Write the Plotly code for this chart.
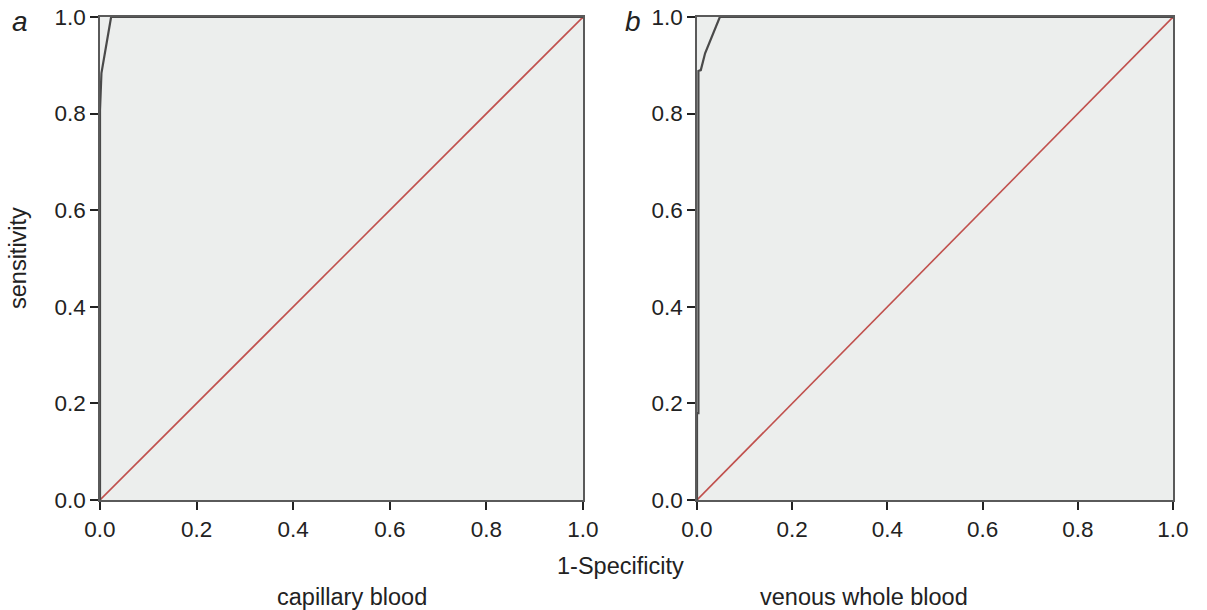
import plotly.graph_objects as go

# ROC data
cap_fpr = [0.0, 0.0, 0.003, 0.023, 1.0]
cap_tpr = [0.0, 0.807, 0.884, 1.0, 1.0]
ven_fpr = [0.0, 0.0, 0.003, 0.003, 0.008, 0.017, 0.048, 1.0]
ven_tpr = [0.0, 0.18, 0.18, 0.888, 0.89, 0.925, 1.0, 1.0]
ref_line = [0.0, 1.0]
tick_vals = [0.0, 0.2, 0.4, 0.6, 0.8, 1.0]
panel_titles = ["capillary blood", "venous whole blood"]
panel_letters = ["a", "b"]

W, H = 1207, 610
font = "Liberation Sans, Arial, sans-serif"
fig = go.Figure()

for i, (fx, ty) in enumerate([(cap_fpr, cap_tpr), (ven_fpr, ven_tpr)]):
    xa = "x" if i == 0 else "x2"
    ya = "y" if i == 0 else "y2"
    fig.add_trace(go.Scatter(x=ref_line, y=ref_line, mode="lines", xaxis=xa, yaxis=ya,
                             line=dict(color="#c0504d", width=1.6), showlegend=False, hoverinfo="skip"))
    fig.add_trace(go.Scatter(x=fx, y=ty, mode="lines", xaxis=xa, yaxis=ya,
                             line=dict(color="#4a4a4a", width=2.2), showlegend=False))

ax_common = dict(range=[0, 1], tickvals=tick_vals, tickformat=".1f", showgrid=False, zeroline=False,
                 showline=True, mirror=True, linecolor="#5a5a5a", linewidth=1.5,
                 ticks="outside", ticklen=8, tickwidth=1.5, tickcolor="#222222",
                 tickfont=dict(family=font, size=22.5, color="#222222"), fixedrange=True,
                 automargin=False)

y0, y1 = 1 - 500 / H, 1 - 17 / H
fig.update_layout(
    width=W, height=H,
    margin=dict(l=0, r=0, t=0, b=0, autoexpand=False),
    paper_bgcolor="white", plot_bgcolor="#eceeed",
    xaxis=dict(domain=[100 / W, 583 / W], anchor="y", **ax_common),
    yaxis=dict(domain=[y0, y1], anchor="x", **ax_common),
    xaxis2=dict(domain=[697 / W, 1173 / W], anchor="y2", **ax_common),
    yaxis2=dict(domain=[y0, y1], anchor="x2", **ax_common),
)

txt_font = dict(family=font, size=23.5, color="#222222")
ann = [
    dict(text="<i>" + panel_letters[0] + "</i>", x=20 / W, y=1 - 22 / H,
         font=dict(family=font, size=28, color="#222222")),
    dict(text="<i>" + panel_letters[1] + "</i>", x=633 / W, y=1 - 22 / H,
         font=dict(family=font, size=28, color="#222222")),
    dict(text="sensitivity", x=18 / W, y=1 - 258 / H, textangle=-90, font=txt_font),
    dict(text="1-Specificity", x=620 / W, y=1 - 566 / H, font=txt_font),
    dict(text=panel_titles[0], x=352 / W, y=1 - 597 / H, font=txt_font),
    dict(text=panel_titles[1], x=864 / W, y=1 - 597 / H, font=txt_font),
]
for a in ann:
    a.update(xref="paper", yref="paper", showarrow=False, xanchor="center", yanchor="middle")
fig.update_layout(annotations=ann)

fig.write_html("out.html", config={"displayModeBar": False},
               post_script="document.body.style.margin='0px';document.body.style.overflow='hidden';")
